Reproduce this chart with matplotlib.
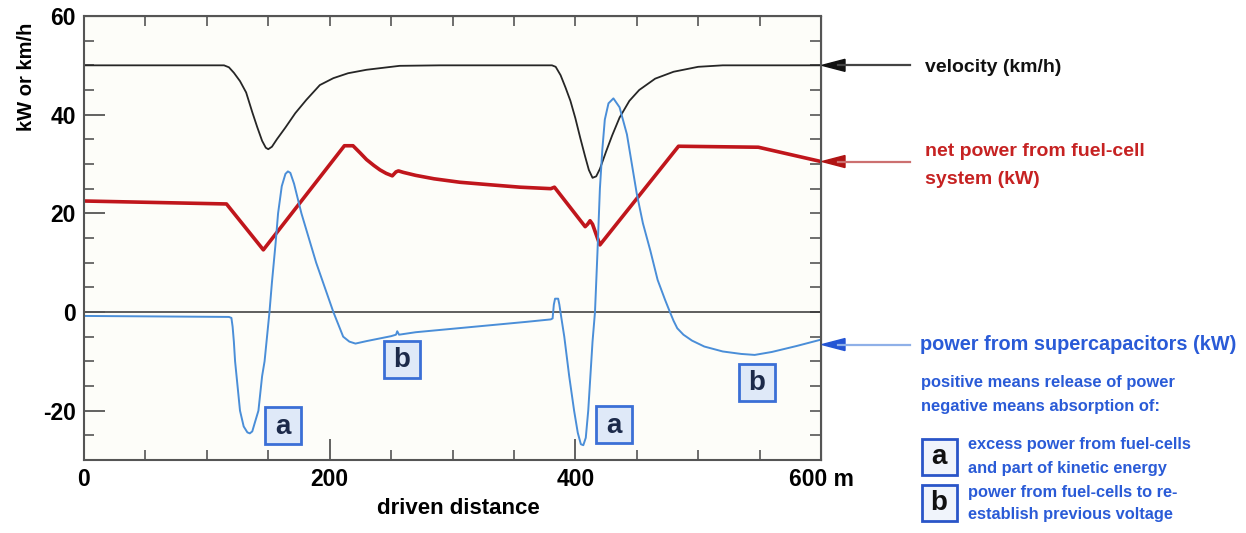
import matplotlib
matplotlib.use("Agg")
import matplotlib.pyplot as plt
from matplotlib.lines import Line2D
from matplotlib.patches import Polygon, Rectangle
from matplotlib.ticker import MultipleLocator

plt.rcParams["font.family"] = ["Liberation Sans", "DejaVu Sans"]
plt.rcParams["font.weight"] = "bold"
plt.rcParams["axes.unicode_minus"] = False

# velocity (km/h) vs driven distance (m)
vel_x = [0, 114, 118, 122, 127, 132, 137, 141, 145, 148, 150, 153, 157, 164, 172, 181,
         192, 203, 215, 230, 257, 290, 381, 384, 388, 392, 396, 400, 404, 408, 411, 414,
         417, 420, 425, 430, 436, 444, 452, 465, 480, 500, 520, 600]
vel_y = [50, 50, 49.6, 48.5, 46.8, 44.5, 40.5, 37.5, 34.7, 33.3, 33, 33.5, 35, 37.4, 40.3, 43,
         46, 47.4, 48.4, 49.1, 49.9, 50, 50, 49.7, 48, 45.5, 42.8, 39.3, 35.3, 31.5, 28.8, 27.2,
         27.5, 29, 32.5, 35.8, 39.4, 42.8, 45, 47.3, 48.7, 49.7, 50, 50]

# net power from fuel-cell system (kW)
fc_x = [0, 116, 146, 212, 219, 225, 230, 236, 241, 246, 251, 254, 256, 260, 270, 285,
        306, 330, 355, 380, 383, 408, 410, 412, 414, 420, 484, 549, 600]
fc_y = [22.5, 21.9, 12.6, 33.7, 33.7, 32.2, 30.9, 29.7, 28.8, 28.1, 27.6, 28.4, 28.6, 28.3, 27.7, 27.0,
        26.3, 25.8, 25.3, 25.0, 25.3, 17.3, 17.8, 18.5, 17.8, 13.6, 33.6, 33.4, 30.5]

# power from supercapacitors (kW)
sc_x = [0, 60, 118, 120, 121, 122, 123, 125, 127, 130, 133, 135, 137, 139, 142, 145, 147, 149,
        151, 153, 156, 158, 161, 164, 166, 168, 171, 174, 177, 183, 189, 196, 203, 211, 216, 221,
        230, 240, 250, 254, 255, 256.5, 270, 300, 330, 360, 380, 381.5, 382.5, 383.5, 386, 387,
        388.5, 391, 395, 399, 402, 404.5, 406.5, 408.5, 410.5, 412, 414, 416, 418, 420, 422, 424,
        427, 431, 436, 442, 446, 450, 455, 461, 467, 473, 477, 480, 483, 488, 495, 505, 520, 535,
        546, 560, 580, 600]
sc_y = [-0.8, -0.9, -1.0, -1.2, -3, -6, -10, -15, -20, -23.2, -24.4, -24.6, -24.2, -22.5, -20, -13, -10, -5,
        0, 6, 14, 20, 25.5, 28, 28.5, 28.2, 26, 23, 20, 15, 10, 5, 0, -5, -6, -6.4,
        -5.9, -5.4, -4.9, -4.6, -3.9, -4.6, -4.1, -3.4, -2.7, -2.0, -1.5, -1.3, 1.5, 2.7, 2.7, 1.5,
        -1, -5, -13, -20, -24.5, -26.8, -27, -25.5, -20, -14, -6, 0, 12, 25, 33, 39,
        42.3, 43.3, 41.5, 36, 30, 24, 18, 12.5, 6.5, 2.5, 0, -1.8, -3.3, -4.6, -5.8, -7, -8, -8.5,
        -8.7, -8.1, -6.9, -5.6]

x_ticks = [0, 200, 400, 600]
x_tick_labels = ["0", "200", "400", "600 m"]
y_ticks = [-20, 0, 20, 40, 60]

# letter boxes inside the plot: (distance, value, letter)
box_letters = [(162, -23.1, "a"), (258.5, -9.6, "b"), (431.5, -22.9, "a"), (547.5, -14.2, "b")]

W, H = 1246, 533
BLUE_TXT = "#2a5bd7"


def fx(px):
    return px / W


def fy(py):
    return 1 - py / H


fig = plt.figure(figsize=(W / 100, H / 100), dpi=100)
ax = fig.add_axes([84 / W, 1 - 460 / H, 737 / W, 444 / H])
ax.set_facecolor("#fdfdf9")

ax.axhline(0, color="#333333", lw=1.1, zorder=1.5)
ax.plot(vel_x, vel_y, color="#262626", lw=1.3)
ax.plot(fc_x, fc_y, color="#c0161c", lw=2.6)
ax.plot(sc_x, sc_y, color="#4a8ed8", lw=1.4)

ax.set_xlim(0, 600)
ax.set_ylim(-30, 60)
ax.set_xticks(x_ticks)
ax.set_xticklabels(x_tick_labels)
ax.set_yticks(y_ticks)
ax.xaxis.set_minor_locator(MultipleLocator(50))
ax.yaxis.set_minor_locator(MultipleLocator(5))
ax.tick_params(which="major", direction="in", length=15, width=1.3, color="#555555",
               labelsize=16.5, pad=6)
ax.tick_params(which="minor", direction="in", length=7, width=1.2, color="#555555")
for s in ax.spines.values():
    s.set_color("#555555")
    s.set_linewidth(1.5)

top = ax.secondary_xaxis("top")
top.set_xticks(range(0, 601, 50))
top.tick_params(direction="in", length=7, width=1.2, color="#555555", labeltop=False)
right = ax.secondary_yaxis("right")
right.set_yticks(range(-25, 60, 5))
right.tick_params(direction="in", length=8, width=1.2, color="#555555", labelright=False)

fig.text(fx(27), fy(77), "kW or km/h", rotation=90, ha="center", va="center", fontsize=14.5)
fig.text(fx(458), fy(509), "driven distance", ha="center", va="center", fontsize=16)


def px_of(x, y):
    d = ax.transData.transform((x, y))
    return d[0], H - d[1]


def box(cx, cy, letter, fill, edge, color, w=36, h=37):
    fig.add_artist(Rectangle((fx(cx - w / 2), fy(cy + h / 2)), w / W, h / H,
                             transform=fig.transFigure, fc=fill, ec=edge, lw=2))
    fig.text(fx(cx), fy(cy + 1), letter, ha="center", va="center", fontsize=20, color=color)


for bx, by, letter in box_letters:
    cx, cy = px_of(bx, by)
    box(cx, cy, letter, "#dfe9f8", "#3b6fd6", "#1c2a4a")


def arrow(value, line_color, head_color):
    _, py = px_of(600, value)
    fig.add_artist(Line2D([fx(838), fx(910)], [fy(py), fy(py)], color=line_color, lw=1.6,
                          transform=fig.transFigure))
    fig.add_artist(Polygon([(fx(822), fy(py)), (fx(845), fy(py - 6)), (fx(845), fy(py + 6))],
                           closed=True, fc=head_color, ec=head_color, transform=fig.transFigure))


arrow(50, "#444444", "#111111")
arrow(30.5, "#cc7070", "#b01414")
arrow(-6.6, "#8fb0e8", "#2455d4")

fig.text(fx(925), fy(68), "velocity (km/h)", va="center", fontsize=14, color="#111111")
fig.text(fx(925), fy(151), "net power from fuel-cell", va="center", fontsize=14, color="#c62222")
fig.text(fx(925), fy(180), "system (kW)", va="center", fontsize=14, color="#c62222")
fig.text(fx(920), fy(345), "power from supercapacitors (kW)", va="center", fontsize=14.3,
         color=BLUE_TXT)
fig.text(fx(921), fy(383), "positive means release of power", va="center", fontsize=11.9,
         color=BLUE_TXT)
fig.text(fx(921), fy(407), "negative means absorption of:", va="center", fontsize=11.9,
         color=BLUE_TXT)

box(939, 456.5, "a", "#f0f4fb", "#2a55c8", "#111111", w=35, h=36)
box(939, 502.5, "b", "#f0f4fb", "#2a55c8", "#111111", w=35, h=36)
fig.text(fx(968), fy(444), "excess power from fuel-cells", va="center", fontsize=11.8,
         color=BLUE_TXT)
fig.text(fx(968), fy(469), "and part of kinetic energy", va="center", fontsize=11.8,
         color=BLUE_TXT)
fig.text(fx(968), fy(492), "power from fuel-cells to re-", va="center", fontsize=11.8,
         color=BLUE_TXT)
fig.text(fx(968), fy(515), "establish previous voltage", va="center", fontsize=11.8,
         color=BLUE_TXT)

fig.savefig("out.png", dpi=100)
